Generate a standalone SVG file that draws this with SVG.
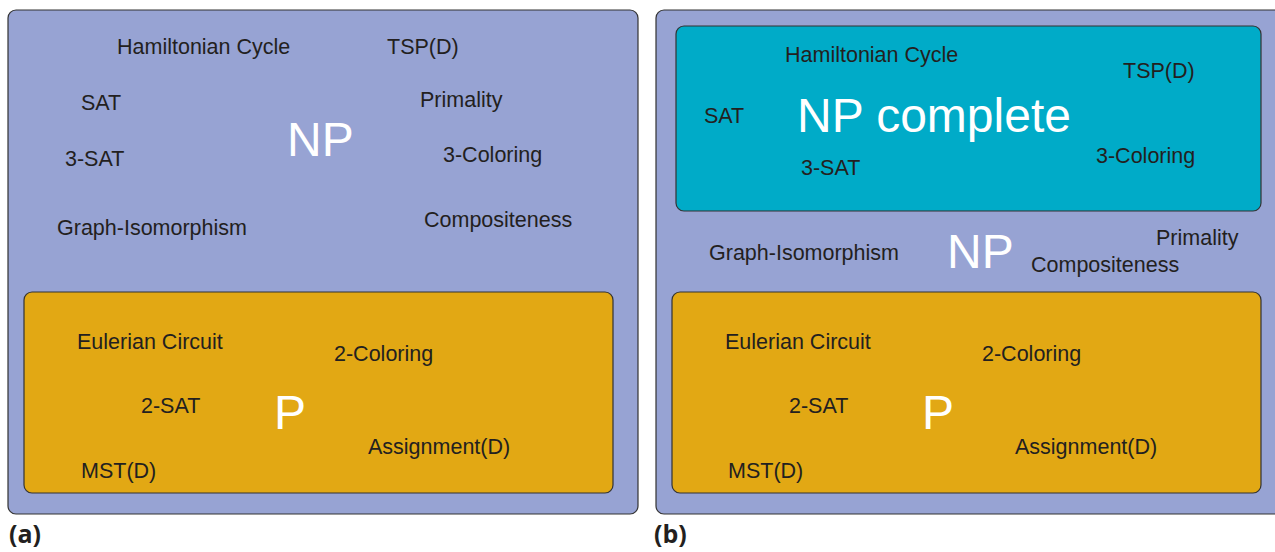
<svg xmlns="http://www.w3.org/2000/svg" width="1275" height="552" viewBox="0 0 1275 552">
<style>
.np{fill:#97a3d3;stroke:#333;stroke-width:1.2}
.p{fill:#e2a814;stroke:#333;stroke-width:1.2}
.npc{fill:#00abc8;stroke:#333;stroke-width:1.2}
text{font-family:"Liberation Sans",Arial,sans-serif}
.t{font-size:21.5px;fill:#231f20}
.big{font-size:48px;fill:#fff}
.cap{font-size:25px;font-weight:bold;fill:#231f20;font-family:"Open Sans","Liberation Sans",sans-serif}
</style>
<rect width="1275" height="552" fill="#fff"/>
<g id="panelA">
<g id="NP-a"><rect class="np" x="8" y="10" width="630" height="504" rx="8"/>
<text class="big" x="287" y="156">NP</text>
<text class="t" x="117" y="54">Hamiltonian Cycle</text>
<text class="t" x="387" y="54">TSP(D)</text>
<text class="t" x="81" y="110">SAT</text>
<text class="t" x="420" y="107">Primality</text>
<text class="t" x="65" y="166">3-SAT</text>
<text class="t" x="443" y="162">3-Coloring</text>
<text class="t" x="57" y="235">Graph-Isomorphism</text>
<text class="t" x="424" y="227">Compositeness</text>
</g>
<g id="P-a"><rect class="p" x="24" y="292" width="589" height="201" rx="8"/>
<text class="big" x="274" y="429">P</text>
<text class="t" x="77" y="349">Eulerian Circuit</text>
<text class="t" x="334" y="361">2-Coloring</text>
<text class="t" x="141" y="413">2-SAT</text>
<text class="t" x="368" y="454">Assignment(D)</text>
<text class="t" x="81" y="478">MST(D)</text>
</g>
<text class="cap" x="9" y="543">(a)</text>
</g>
<g id="panelB">
<g id="NP-b"><rect class="np" x="656" y="10" width="630" height="504" rx="8"/>
<text class="big" x="947" y="268">NP</text>
<text class="t" x="709" y="260">Graph-Isomorphism</text>
<text class="t" x="1156" y="245">Primality</text>
<text class="t" x="1031" y="272">Compositeness</text>
</g>
<g id="NPC-b"><rect class="npc" x="676" y="26" width="585" height="185" rx="8"/>
<text class="big" x="797" y="132">NP complete</text>
<text class="t" x="785" y="62">Hamiltonian Cycle</text>
<text class="t" x="1123" y="78">TSP(D)</text>
<text class="t" x="704" y="123">SAT</text>
<text class="t" x="801" y="175">3-SAT</text>
<text class="t" x="1096" y="163">3-Coloring</text>
</g>
<g id="P-b"><rect class="p" x="672" y="292" width="589" height="201" rx="8"/>
<text class="big" x="922" y="429">P</text>
<text class="t" x="725" y="349">Eulerian Circuit</text>
<text class="t" x="982" y="361">2-Coloring</text>
<text class="t" x="789" y="413">2-SAT</text>
<text class="t" x="1015" y="454">Assignment(D)</text>
<text class="t" x="728" y="478">MST(D)</text>
</g>
<text class="cap" x="654" y="543">(b)</text>
</g>
<g id="connectors"/>
</svg>
